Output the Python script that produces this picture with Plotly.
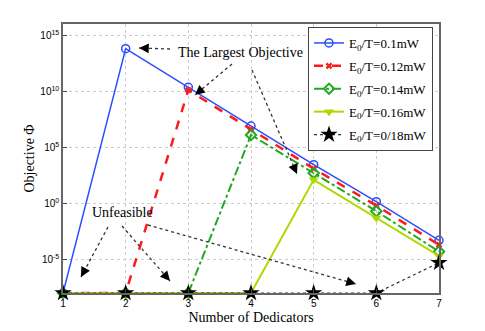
import plotly.graph_objects as go

x_vals = [1, 2, 3, 4, 5, 6, 7]
floor_val = 1e-8
s_01 = [floor_val, 10**13.8, 10**10.35, 10**6.9, 10**3.45, 10**0.15, 10**-3.3]
s_012 = [floor_val, floor_val, 10**10.1, 10**6.6, 10**3.1, 10**-0.2, 10**-3.7]
s_014 = [floor_val, floor_val, floor_val, 10**6.1, 10**2.7, 10**-0.7, 10**-4.3]
s_016 = [floor_val, floor_val, floor_val, floor_val, 10**2.1, 10**-1.3, 10**-4.7]
s_018 = [floor_val, floor_val, floor_val, floor_val, floor_val, floor_val, 10**-5.3]
names = ["E<sub>0</sub>/T=0.1mW", "E<sub>0</sub>/T=0.12mW", "E<sub>0</sub>/T=0.14mW",
         "E<sub>0</sub>/T=0.16mW", "E<sub>0</sub>/T=0/18mW"]
y_tickvals = [1e-5, 1e0, 1e5, 1e10, 1e15]
y_ticktext = ["10<sup>-5</sup>", "10<sup>0</sup>", "10<sup>5</sup>", "10<sup>10</sup>", "10<sup>15</sup>"]

serif = "Liberation Serif, Times New Roman, serif"
sans = "Liberation Sans, Arial, sans-serif"

fig = go.Figure()
fig.add_trace(go.Scatter(x=x_vals, y=s_01, name=names[0], mode="lines+markers", legendgroup="a",
                         line=dict(color="#2a4dff", width=1.5),
                         marker=dict(symbol="circle-open", size=8, color="#2a4dff", line=dict(width=1.5)),
                         cliponaxis=False))
fig.add_trace(go.Scatter(x=x_vals, y=s_012, name=names[1], mode="lines+markers", legendgroup="b",
                         line=dict(color="#ff1a1a", width=2.5, dash="dash"),
                         marker=dict(symbol="x", size=6, color="#ff1a1a"),
                         cliponaxis=False))
fig.add_trace(go.Scatter(x=x_vals, y=s_014, name=names[2], mode="lines+markers", legendgroup="c",
                         line=dict(color="#22a822", width=2, dash="dashdot"),
                         marker=dict(symbol="diamond-open", size=8, color="#22a822", line=dict(width=2)),
                         cliponaxis=False))
fig.add_trace(go.Scatter(x=x_vals, y=s_016, name=names[3], mode="lines+markers", legendgroup="d",
                         line=dict(color="#b0d800", width=2),
                         marker=dict(symbol="triangle-down", size=9, color="#b0d800"),
                         cliponaxis=False))
fig.add_trace(go.Scatter(x=x_vals, y=s_018, name=names[4], mode="lines+markers", legendgroup="e",
                         line=dict(color="#333333", width=1.2, dash="dot"),
                         marker=dict(symbol="star", size=13, color="black"),
                         cliponaxis=False))

# page body has an 8px margin; plot area target in window pixels
OFF = 8
L, R, T, B = 63, 439, 24, 293
W, H = 485 - OFF, 331 - OFF
def px(xp):
    return (xp - L) / (R - L)
def py(yp):
    return (B - yp) / (B - T)

# dotted annotation lines (window pixel coords: tail -> head)
arrows = [
    ((170, 49), (139, 48)),
    ((232, 64), (195, 95)),
    ((252, 70), (297, 174)),
    ((108, 227), (81, 277)),
    ((122, 226), (170, 281)),
    ((148, 225), (356, 284)),
]
shapes = []
annotations = []
for (x0, y0), (x1, y1) in arrows:
    shapes.append(dict(type="line", xref="paper", yref="paper",
                       x0=px(x0), y0=py(y0), x1=px(x1), y1=py(y1),
                       line=dict(color="#333333", width=1.3, dash="dot")))
    dx, dy = x1 - x0, y1 - y0
    n = (dx * dx + dy * dy) ** 0.5
    annotations.append(dict(xref="paper", yref="paper", x=px(x1), y=py(y1),
                            ax=-dx / n * 9, ay=-dy / n * 9, axref="pixel", ayref="pixel",
                            text="", showarrow=True, arrowhead=2, arrowsize=1.5,
                            arrowwidth=1.3, arrowcolor="black"))
annotations.append(dict(xref="paper", yref="paper", x=px(240), y=py(52), text="The Largest Objective",
                        xanchor="center", yanchor="middle",
                        showarrow=False, font=dict(family=serif, size=14, color="black")))
annotations.append(dict(xref="paper", yref="paper", x=px(122), y=py(212), text="Unfeasible",
                        xanchor="center", yanchor="middle",
                        showarrow=False, font=dict(family=serif, size=14, color="black")))

fig.update_layout(
    width=W, height=H,
    margin=dict(l=L - OFF, r=W - (R - OFF), t=T - OFF, b=H - (B - OFF), autoexpand=False),
    paper_bgcolor="white", plot_bgcolor="white",
    shapes=shapes, annotations=annotations,
    legend=dict(x=px(308), y=py(27), xanchor="left", yanchor="top",
                bgcolor="white", bordercolor="#444444", borderwidth=1,
                font=dict(family=serif, size=13, color="black"),
                itemwidth=30, tracegroupgap=3, traceorder="grouped"),
    xaxis=dict(range=[1, 7], tickvals=x_vals, ticks="inside", ticklen=4, automargin=False,
               showline=True, mirror=True, linecolor="#666666", linewidth=1.5,
               showgrid=True, gridcolor="#cccccc", griddash="dot", gridwidth=1,
               zeroline=False, tickfont=dict(family=sans, size=10, color="black"),
               title=dict(text="Number of Dedicators", font=dict(family=serif, size=14, color="black"), standoff=4)),
    yaxis=dict(type="log", range=[-8, 16], tickvals=y_tickvals, ticktext=y_ticktext,
               ticks="inside", ticklen=4, automargin=False,
               showline=True, mirror=True, linecolor="#666666", linewidth=1.5,
               showgrid=True, gridcolor="#cccccc", griddash="dot", gridwidth=1,
               zeroline=False, tickfont=dict(family=sans, size=10, color="black"),
               title=dict(text="Objective Φ", font=dict(family=serif, size=14, color="black"), standoff=2)),
)

fig.write_html("out.html")
